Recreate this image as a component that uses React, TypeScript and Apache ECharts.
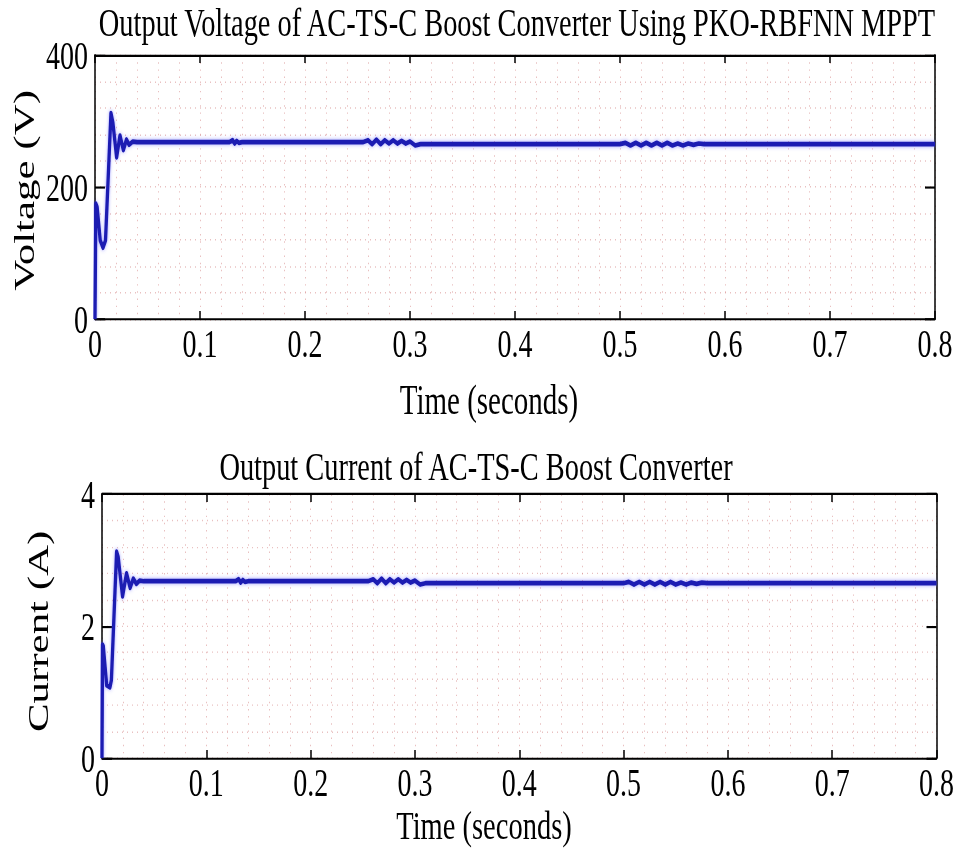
import React, { useEffect, useRef } from "react";
import * as echarts from "echarts";

// ---- data ----
const TIME_V = [
  0, 0.0008, 0.002, 0.005, 0.0076, 0.01, 0.0152, 0.017, 0.0206, 0.0238, 0.027, 0.03, 0.0325, 0.036, 0.04,
  0.128, 0.131, 0.133, 0.135, 0.137, 0.14,
  0.255, 0.26, 0.264, 0.268, 0.272, 0.276, 0.28, 0.284, 0.288, 0.292, 0.296, 0.3, 0.305, 0.31,
  0.5, 0.505, 0.51, 0.515, 0.52, 0.525, 0.53, 0.535, 0.54, 0.545, 0.55, 0.555, 0.56, 0.565, 0.57, 0.575, 0.58, 0.8,
];
const VOLTAGE = [
  0, 175, 170, 119, 108, 119, 312, 298, 245, 278, 256, 272, 264, 269, 268,
  268, 271, 266, 270, 267, 268,
  268, 271, 265, 272, 265, 271, 266, 271, 266, 270, 266, 269, 263, 265,
  265, 267, 263, 267, 263, 267, 263, 267, 263, 267, 263, 266, 263, 266, 264, 266, 265, 265,
];
const TIME_I = [
  0, 0.0005, 0.0012, 0.0045, 0.0076, 0.009, 0.014, 0.0155, 0.0197, 0.0235, 0.027, 0.03, 0.033, 0.036, 0.04,
  0.128, 0.131, 0.133, 0.135, 0.137, 0.14,
  0.255, 0.26, 0.264, 0.268, 0.272, 0.276, 0.28, 0.284, 0.288, 0.292, 0.296, 0.3, 0.305, 0.31,
  0.5, 0.505, 0.51, 0.515, 0.52, 0.525, 0.53, 0.535, 0.54, 0.545, 0.55, 0.555, 0.56, 0.565, 0.57, 0.575, 0.58, 0.8,
];
const CURRENT = [
  0, 1.72, 1.7, 1.1, 1.07, 1.18, 3.13, 3.05, 2.45, 2.8, 2.58, 2.72, 2.64, 2.69, 2.68,
  2.68, 2.71, 2.66, 2.7, 2.67, 2.68,
  2.68, 2.71, 2.65, 2.72, 2.65, 2.71, 2.66, 2.71, 2.66, 2.7, 2.66, 2.69, 2.63, 2.65,
  2.65, 2.67, 2.63, 2.67, 2.63, 2.67, 2.63, 2.67, 2.63, 2.67, 2.63, 2.66, 2.63, 2.66, 2.64, 2.66, 2.65, 2.65,
];
const X_RANGE = [0, 0.8];
const X_STEP = 0.1;
const V_RANGE = [0, 400];
const V_STEP = 200;
const I_RANGE = [0, 4];
const I_STEP = 2;

const TITLE_V = "Output Voltage of AC-TS-C Boost Converter Using PKO-RBFNN MPPT";
const TITLE_I = "Output Current of AC-TS-C Boost Converter";
const X_NAME = "Time (seconds)";
const V_NAME = "Voltage (V)";
const I_NAME = "Current (A)";

const W = 957;
const H = 600;
const SY = 859 / H;
const FONT = "'Liberation Serif', 'Times New Roman', serif";
const GRID_C = "rgba(215,140,140,0.55)";
const LINE_C = "#1c1cb2";

function xAxes(gridIndex: number) {
  const line = { show: true, onZero: false, lineStyle: { color: "#000", width: 1.5 } };
  return [
    {
      type: "value", gridIndex, min: X_RANGE[0], max: X_RANGE[1], interval: X_STEP,
      axisLine: line,
      axisTick: { show: true, inside: true, length: 5.5, lineStyle: { color: "#000", width: 1.5 } },
      axisLabel: { fontFamily: FONT, fontSize: 28, color: "#000", margin: 3 },
      splitLine: { show: true, lineStyle: { color: GRID_C, type: [1, 4], width: 1 } },
      minorTick: { show: false, splitNumber: 5 },
      minorSplitLine: { show: true, lineStyle: { color: GRID_C, type: [1, 4], width: 1 } },
    },
    {
      type: "value", gridIndex, position: "top", min: X_RANGE[0], max: X_RANGE[1], interval: X_STEP,
      axisLine: line,
      axisTick: { show: true, inside: true, length: 5.5, lineStyle: { color: "#000", width: 1.5 } },
      axisLabel: { show: false },
      splitLine: { show: false },
    },
  ];
}

function yAxes(gridIndex: number, range: number[], step: number) {
  const line = { show: true, onZero: false, lineStyle: { color: "#000", width: 1.5 } };
  return [
    {
      type: "value", gridIndex, min: range[0], max: range[1], interval: step,
      axisLine: line,
      axisTick: { show: true, inside: true, length: 10, lineStyle: { color: "#000", width: 1.5 } },
      axisLabel: { fontFamily: FONT, fontSize: 28, color: "#000", margin: 7 },
      splitLine: { show: true, lineStyle: { color: GRID_C, type: [1, 4], width: 1 } },
      minorTick: { show: false, splitNumber: 5 },
      minorSplitLine: { show: true, lineStyle: { color: GRID_C, type: [1, 4], width: 1 } },
    },
    {
      type: "value", gridIndex, position: "right", min: range[0], max: range[1], interval: step,
      axisLine: line,
      axisTick: { show: true, inside: true, length: 10, lineStyle: { color: "#000", width: 1.5 } },
      axisLabel: { show: false },
      splitLine: { show: false },
    },
  ];
}

function txt(text: string, x: number, y: number, size: number, rotation = 0) {
  return {
    type: "text", x, y, rotation,
    style: { text, fontFamily: FONT, fontSize: size, fill: "#000", textAlign: "center", textVerticalAlign: "middle" },
  };
}

export default function App() {
  const ref = useRef<HTMLDivElement>(null);
  useEffect(() => {
    const chart = echarts.init(ref.current!, null, { renderer: "svg", width: W, height: H });
    const vData = TIME_V.map((t, i) => [t, VOLTAGE[i]]);
    const iData = TIME_I.map((t, i) => [t, CURRENT[i]]);
    const lineStyle = {
      color: LINE_C, width: 3.3, join: "round",
      shadowColor: "rgba(80,80,255,0.55)", shadowBlur: 3,
    };
    chart.setOption({
      animation: false,
      backgroundColor: "#fff",
      grid: [
        { left: 95, top: 38.5, width: 840, height: 184.3 },
        { left: 102, top: 345.2, width: 840, height: 184.2 },
      ],
      xAxis: [...xAxes(0), ...xAxes(1)],
      yAxis: [...yAxes(0, V_RANGE, V_STEP), ...yAxes(1, I_RANGE, I_STEP)],
      series: [
        { type: "line", xAxisIndex: 0, yAxisIndex: 0, data: vData, showSymbol: false, lineStyle, silent: true },
        { type: "line", xAxisIndex: 2, yAxisIndex: 2, data: iData, showSymbol: false, lineStyle, silent: true },
      ],
      graphic: [
        txt(TITLE_V, 517, 16, 28.4),
        txt(X_NAME, 489, 279.5, 29),
        txt(V_NAME, 24, 133, 30, Math.PI / 2),
        txt(TITLE_I, 476, 326, 28.4),
        txt(X_NAME, 484, 576.5, 28.5),
        txt(I_NAME, 38, 441, 30, Math.PI / 2),
      ],
    });
    return () => chart.dispose();
  }, []);
  return (
    <div
      ref={ref}
      style={{
        position: "absolute", left: 0, top: 0, width: W, height: H,
        transform: `scaleY(${SY})`, transformOrigin: "0 0", background: "#fff",
      }}
    />
  );
}
